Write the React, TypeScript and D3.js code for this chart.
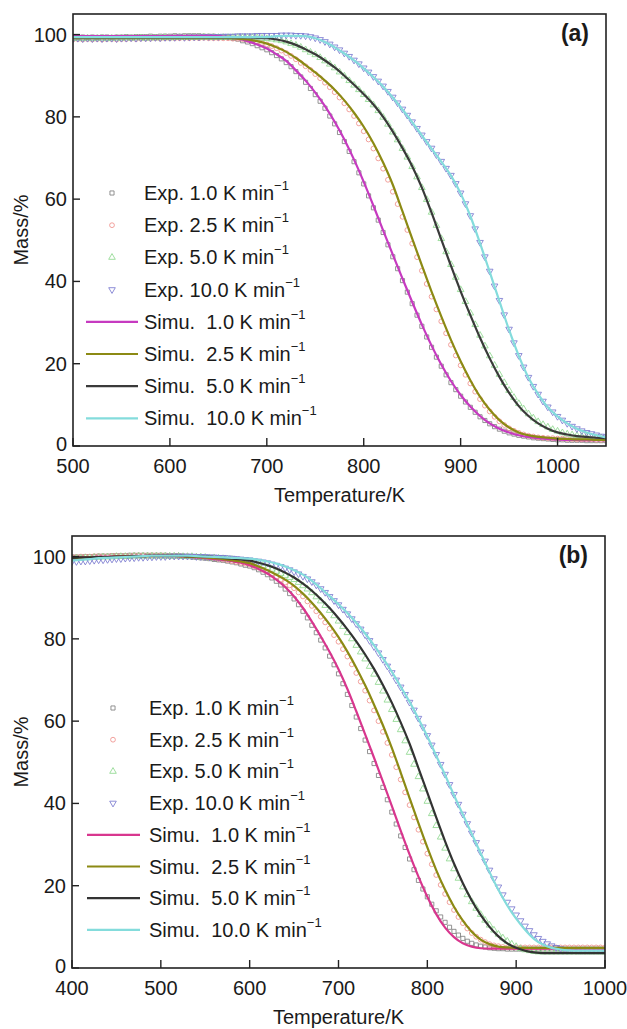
import React from "react";
import * as d3 from "d3";

// ---------- data: panel (a) ----------
const tempsA = [500,510,520,530,540,550,560,570,580,590,600,610,620,630,640,650,660,670,680,690,700,710,720,730,740,750,760,770,780,790,800,810,820,830,840,850,860,870,880,890,900,910,920,930,940,950,960,970,980,990,1000,1010,1020,1030,1040,1050];

const simA1 = [99.6,99.6,99.6,99.6,99.6,99.6,99.6,99.6,99.6,99.6,99.7,99.7,99.7,99.7,99.7,99.6,99.4,99.0,98.4,97.6,96.6,95.2,93.6,91.3,88.8,85.9,82.6,78.8,74.5,69.6,64.2,58.4,52.4,46.5,40.7,35.0,29.5,24.4,19.8,15.8,12.4,9.6,7.3,5.5,4.2,3.3,2.6,2.2,1.9,1.7,1.6,1.5,1.5,1.4,1.4,1.4];
const simA2 = [99.1,99.1,99.1,99.1,99.1,99.1,99.1,99.1,99.1,99.1,99.1,99.1,99.1,99.1,99.1,99.1,99.1,99.0,98.8,98.4,97.8,96.9,95.8,94.3,92.6,90.8,88.8,86.6,84.0,81.0,77.6,73.6,68.9,63.5,57.0,50.4,43.9,37.5,31.5,25.8,20.6,16.0,12.0,8.8,6.3,4.5,3.3,2.6,2.2,2.0,1.8,1.7,1.6,1.6,1.5,1.5];
const simA3 = [99.3,99.3,99.3,99.3,99.3,99.3,99.3,99.3,99.3,99.3,99.3,99.3,99.3,99.3,99.3,99.3,99.3,99.3,99.3,99.2,99.1,98.8,98.3,97.5,96.4,95.2,93.7,92.0,90.0,87.8,85.5,83.0,80.0,76.4,72.4,68.0,62.8,56.7,50.2,43.8,37.6,31.8,26.3,21.3,16.8,12.9,9.7,7.3,5.5,4.2,3.3,2.8,2.4,2.2,2.0,1.9];
const simA4 = [99.4,99.4,99.4,99.4,99.4,99.4,99.4,99.4,99.4,99.4,99.4,99.4,99.4,99.4,99.4,99.4,99.4,99.4,99.4,99.4,99.4,99.6,99.7,99.7,99.6,99.1,98.2,96.9,95.4,93.7,91.8,89.7,87.4,84.7,81.8,78.7,75.5,72.3,69.1,65.7,61.4,55.9,49.3,42.3,35.2,28.2,21.9,16.6,12.6,9.4,7.2,5.5,4.2,3.3,2.6,2.1];

const expTempsA = [500,505,510,515,520,525,530,535,540,545,550,555,560,565,570,575,580,585,590,595,600,605,610,615,620,625,630,635,640,645,650,655,660,665,670,675,680,685,690,695,700,705,710,715,720,725,730,735,740,745,750,755,760,765,770,775,780,785,790,795,800,805,810,815,820,825,830,835,840,845,850,855,860,865,870,875,880,885,890,895,900,905,910,915,920,925,930,935,940,945,950,955,960,965,970,975,980,985,990,995,1000,1005,1010,1015,1020,1025,1030,1035,1040,1045,1050];

const expA1 = [
  99.4,99.3,99.4,99.3,99.4,99.3,99.4,99.4,99.3,99.4,
  99.4,99.5,99.4,99.5,99.5,99.5,99.6,99.5,99.6,99.6,
  99.6,99.7,99.6,99.7,99.7,99.7,99.7,99.6,99.6,99.6,
  99.5,99.4,99.3,99.1,98.9,98.5,98.2,97.8,97.3,96.8,
  96.3,95.6,94.9,94.1,93.2,92.2,91.0,89.7,88.4,86.9,
  85.4,83.8,82.1,80.2,78.3,76.2,74.0,71.6,69.1,66.4,
  63.7,60.8,57.9,54.9,51.9,48.9,46.0,43.1,40.2,37.4,
  34.6,31.8,29.1,26.5,24.0,21.6,19.4,17.3,15.4,13.7,
  12.1,10.7,9.4,8.2,7.1,6.2,5.4,4.7,4.1,3.6,
  3.2,2.9,2.6,2.4,2.2,2.0,1.9,1.8,1.7,1.6,
  1.5,1.5,1.4,1.4,1.4,1.4,1.3,1.3,1.3,1.3,
  1.3];
const expA2 = [
  98.8,98.9,98.8,98.9,98.8,98.9,98.8,98.9,98.9,98.8,
  98.9,98.9,99.0,98.9,99.0,99.0,99.0,99.1,99.0,99.1,
  99.1,99.1,99.1,99.2,99.1,99.2,99.1,99.2,99.1,99.1,
  99.1,99.1,99.1,99.0,99.0,98.9,98.7,98.5,98.3,98.0,
  97.6,97.2,96.7,96.1,95.5,94.8,94.0,93.1,92.3,91.4,
  90.4,89.4,88.3,87.2,86.0,84.7,83.3,81.8,80.2,78.4,
  76.5,74.5,72.3,69.9,67.4,64.7,61.8,58.8,55.7,52.5,
  49.2,45.9,42.6,39.4,36.3,33.2,30.3,27.4,24.6,22.0,
  19.6,17.3,15.2,13.2,11.4,9.8,8.4,7.1,6.0,5.1,
  4.3,3.7,3.2,2.8,2.5,2.3,2.1,2.0,1.9,1.9,
  1.8,1.8,1.7,1.7,1.6,1.6,1.6,1.6,1.5,1.5,
  1.5];
const expA3 = [
  99.0,99.1,99.0,99.1,99.0,99.1,99.1,99.0,99.1,99.1,
  99.1,99.2,99.1,99.2,99.2,99.1,99.2,99.2,99.2,99.3,
  99.2,99.3,99.3,99.3,99.3,99.3,99.3,99.4,99.3,99.3,
  99.3,99.3,99.3,99.3,99.3,99.3,99.3,99.3,99.2,99.1,
  99.0,98.9,98.7,98.5,98.2,97.8,97.4,96.9,96.3,95.7,
  95.1,94.4,93.6,92.8,91.9,90.9,89.9,88.8,87.7,86.6,
  85.4,84.2,82.9,81.5,79.9,78.2,76.3,74.4,72.3,70.2,
  67.9,65.4,62.8,59.9,56.8,53.6,50.4,47.2,44.1,41.0,
  38.0,35.1,32.3,29.5,26.9,24.3,21.9,19.6,17.4,15.4,
  13.5,11.8,10.3,9.0,7.8,6.8,5.9,5.2,4.6,4.0,
  3.6,3.2,2.9,2.7,2.5,2.3,2.2,2.1,2.0,2.0,
  1.9];
const expA4 = [
  99.0,99.1,99.0,99.1,99.0,99.1,99.0,99.1,99.1,99.0,
  99.1,99.1,99.2,99.1,99.2,99.2,99.2,99.3,99.2,99.3,
  99.3,99.3,99.4,99.3,99.4,99.4,99.4,99.5,99.5,99.5,
  99.5,99.6,99.6,99.6,99.7,99.7,99.7,99.7,99.8,99.8,
  99.8,99.8,99.8,99.9,99.9,99.9,99.8,99.8,99.7,99.5,
  99.2,98.8,98.3,97.7,97.0,96.3,95.5,94.7,93.8,92.9,
  91.9,90.9,89.8,88.7,87.5,86.2,84.8,83.4,81.9,80.4,
  78.8,77.2,75.6,74.0,72.4,70.8,69.2,67.5,65.8,63.8,
  61.5,58.9,56.0,52.8,49.5,46.0,42.5,38.9,35.4,31.9,
  28.4,25.1,22.0,19.2,16.7,14.5,12.6,10.9,9.5,8.3,
  7.2,6.3,5.5,4.8,4.2,3.7,3.3,3.0,2.7,2.4,
  2.2];

// ---------- data: panel (b) ----------
const tempsB = [400,410,420,430,440,450,460,470,480,490,500,510,520,530,540,550,560,570,580,590,600,610,620,630,640,650,660,670,680,690,700,710,720,730,740,750,760,770,780,790,800,810,820,830,840,850,860,870,880,890,900,910,920,930,940,950,960,970,980,990,1000];

const simB1 = [99.8,99.9,99.9,100.0,100.0,100.1,100.1,100.2,100.2,100.2,100.2,100.2,100.1,100.0,99.8,99.6,99.4,99.2,98.9,98.5,97.9,97.0,95.9,94.4,92.6,90.3,87.5,84.2,80.6,76.8,72.6,67.8,62.4,56.8,51.1,45.3,39.4,33.4,27.6,22.2,17.3,13.1,9.8,7.5,6.0,5.2,4.8,4.7,4.7,4.7,4.7,4.7,4.7,4.7,4.7,4.7,4.7,4.7,4.7,4.7,4.7];
const simB2 = [99.6,99.7,99.8,99.9,99.9,100.0,100.0,100.1,100.1,100.2,100.2,100.2,100.1,100.0,99.9,99.8,99.6,99.4,99.1,98.8,98.4,97.6,96.7,95.6,94.4,92.9,91.0,88.8,86.3,83.5,80.4,76.9,73.0,68.7,64.0,59.0,53.5,47.5,41.3,35.2,29.3,23.8,19.0,14.9,11.5,8.8,6.9,5.8,5.2,5.0,4.9,4.9,4.9,4.9,4.9,4.9,4.9,4.9,4.9,4.9,4.9];
const simB3 = [99.7,99.8,99.8,99.9,99.9,100.0,100.0,100.1,100.1,100.2,100.2,100.2,100.2,100.1,100.1,100.0,99.9,99.7,99.5,99.3,99.0,98.5,97.9,97.1,96.1,94.9,93.4,91.7,89.7,87.5,85.0,82.3,79.4,76.2,72.7,68.8,64.5,59.7,54.5,48.6,42.6,36.6,30.8,25.4,20.6,16.4,12.9,10.0,7.7,6.0,4.9,4.2,3.8,3.6,3.6,3.6,3.6,3.6,3.6,3.6,3.6];
const simB4 = [99.0,99.2,99.4,99.6,99.7,99.8,99.9,100.0,100.1,100.2,100.2,100.2,100.2,100.2,100.1,100.0,99.9,99.8,99.7,99.6,99.5,99.2,98.8,98.3,97.6,96.7,95.6,94.1,92.3,90.4,88.4,86.3,83.9,81.3,78.4,75.3,72.0,68.4,64.7,60.6,56.3,51.6,46.9,42.0,37.3,32.6,27.9,23.3,19.0,15.2,12.0,9.3,7.1,5.7,4.9,4.5,4.3,4.2,4.2,4.2,4.2];

const expTempsB = [400,405,410,415,420,425,430,435,440,445,450,455,460,465,470,475,480,485,490,495,500,505,510,515,520,525,530,535,540,545,550,555,560,565,570,575,580,585,590,595,600,605,610,615,620,625,630,635,640,645,650,655,660,665,670,675,680,685,690,695,700,705,710,715,720,725,730,735,740,745,750,755,760,765,770,775,780,785,790,795,800,805,810,815,820,825,830,835,840,845,850,855,860,865,870,875,880,885,890,895,900,905,910,915,920,925,930,935,940,945,950,955,960,965,970,975,980,985,990,995,1000];

const expB1 = [
  99.9,99.9,99.9,100.0,100.0,100.0,100.1,100.1,100.1,100.2,
  100.2,100.2,100.2,100.3,100.3,100.3,100.3,100.3,100.3,100.3,
  100.3,100.3,100.2,100.2,100.2,100.1,100.0,99.9,99.8,99.7,
  99.6,99.5,99.3,99.2,99.1,98.9,98.7,98.5,98.2,97.9,
  97.7,97.3,96.8,96.2,95.6,94.8,94.0,93.1,92.1,91.0,
  89.7,88.3,86.7,85.1,83.3,81.5,79.7,77.8,75.8,73.7,
  71.5,69.1,66.5,63.8,61.0,58.2,55.4,52.6,49.7,46.8,
  43.9,40.9,37.9,35.0,32.1,29.3,26.5,23.9,21.3,19.2,
  17.3,15.5,13.9,12.4,11.1,9.9,8.9,8.0,7.2,6.5,
  6.0,5.6,5.3,5.1,4.9,4.8,4.7,4.7,4.6,4.6,
  4.6,4.6,4.6,4.6,4.6,4.6,4.6,4.6,4.6,4.6,
  4.6,4.6,4.6,4.6,4.6,4.6,4.6,4.6,4.6,4.6,
  4.6];
const expB2 = [
  99.9,99.9,100.0,100.0,100.0,100.1,100.1,100.1,100.1,100.2,
  100.2,100.2,100.2,100.2,100.3,100.3,100.3,100.3,100.3,100.3,
  100.3,100.2,100.2,100.2,100.2,100.1,100.1,100.0,100.0,99.9,
  99.8,99.7,99.6,99.4,99.3,99.1,98.9,98.7,98.5,98.3,
  98.1,97.7,97.3,96.8,96.3,95.7,95.1,94.4,93.7,93.0,
  92.3,91.3,90.3,89.1,88.0,86.7,85.4,84.0,82.5,80.9,
  79.3,77.5,75.7,73.8,71.7,69.6,67.4,65.0,62.6,60.0,
  57.4,54.7,51.8,48.8,45.8,42.7,39.6,36.6,33.6,30.7,
  27.8,25.2,22.6,20.2,18.0,16.0,14.1,12.4,10.9,9.6,
  8.5,7.6,6.9,6.3,5.8,5.5,5.3,5.1,5.0,5.0,
  5.0,5.0,5.0,5.0,5.0,5.0,5.0,5.0,5.0,5.0,
  5.0,5.0,5.0,5.0,5.0,5.0,5.0,5.0,5.0,5.0,
  5.0];
const expB3 = [
  99.5,99.6,99.6,99.7,99.7,99.8,99.8,99.9,99.9,99.9,
  100.0,100.0,100.0,100.0,100.1,100.1,100.1,100.1,100.1,100.1,
  100.1,100.1,100.1,100.1,100.1,100.0,100.0,100.0,99.9,99.9,
  99.8,99.7,99.7,99.6,99.5,99.4,99.3,99.2,99.0,98.9,
  98.7,98.4,98.1,97.7,97.3,96.9,96.4,95.9,95.4,94.9,
  94.4,93.7,92.9,92.1,91.2,90.2,89.2,88.1,86.9,85.6,
  84.3,83.0,81.5,80.0,78.4,76.8,75.1,73.3,71.4,69.4,
  67.3,65.1,62.8,60.4,57.9,55.2,52.4,49.5,46.5,43.5,
  40.5,37.5,34.6,31.8,29.1,26.5,24.1,21.8,19.7,17.8,
  16.1,14.5,13.0,11.6,10.4,9.2,8.2,7.3,6.5,5.8,
  5.2,4.7,4.4,4.2,4.0,3.9,3.9,3.9,3.9,3.9,
  3.9,3.9,3.9,3.9,3.9,3.9,3.9,3.9,3.9,3.9,
  3.9];
const expB4 = [
  98.8,98.8,98.9,98.9,99.0,99.1,99.2,99.2,99.3,99.4,
  99.5,99.5,99.6,99.7,99.7,99.8,99.8,99.9,99.9,100.0,
  100.0,100.0,100.1,100.1,100.1,100.1,100.1,100.1,100.0,100.0,
  100.0,99.9,99.9,99.8,99.8,99.7,99.6,99.5,99.4,99.3,
  99.2,99.0,98.9,98.7,98.5,98.2,97.9,97.6,97.2,96.8,
  96.3,95.8,95.2,94.6,93.9,93.1,92.2,91.3,90.3,89.3,
  88.3,87.2,86.1,84.9,83.7,82.4,81.0,79.6,78.1,76.6,
  75.0,73.4,71.8,70.0,68.3,66.5,64.6,62.7,60.7,58.6,
  56.5,54.2,51.9,49.5,47.1,44.6,42.2,39.8,37.4,35.1,
  32.8,30.5,28.2,26.0,23.8,21.7,19.7,17.8,16.0,14.4,
  12.9,11.5,10.2,9.1,8.1,7.2,6.5,5.9,5.4,5.0,
  4.7,4.5,4.4,4.4,4.3,4.3,4.3,4.3,4.3,4.3,
  4.3];

const xTicksA = [500, 600, 700, 800, 900, 1000];
const xTicksB = [400, 500, 600, 700, 800, 900, 1000];
const yTicks = [0, 20, 40, 60, 80, 100];

const expLabels = ["Exp. 1.0 K min", "Exp. 2.5 K min", "Exp. 5.0 K min", "Exp. 10.0 K min"];
const simuLabels = ["Simu.  1.0 K min", "Simu.  2.5 K min", "Simu.  5.0 K min", "Simu.  10.0 K min"];

// ---------- styles ----------
const FONT = "'Liberation Sans', Arial, Helvetica, sans-serif";
const markerColors = ["#808080", "#f0918c", "#8fd88f", "#7a7ad0"];
const markerShapes = ["square", "circle", "up", "down"];

type PanelProps = {
  temps: number[];
  expTemps: number[];
  sims: number[][];
  exps: number[][];
  xDomain: [number, number];
  xTicks: number[];
  box: { left: number; right: number; top: number; bottom: number };
  tag: string;
  simColors: string[];
  legend: { y0: number; step: number; markerX: number; lineX1: number; lineX2: number; textX: number };
};

function zip(t: number[], v: number[]) {
  const n = Math.min(t.length, v.length);
  const out: [number, number][] = [];
  for (let i = 0; i < n; i++) out.push([t[i], v[i]]);
  return out;
}

const symSquare = d3.symbol().type(d3.symbolSquare).size(17)() as string;
const symCircle = d3.symbol().type(d3.symbolCircle).size(18)() as string;
const symTri = d3.symbol().type(d3.symbolTriangle).size(19)() as string;

function Marker({ shape, x, y, color }: { shape: string; x: number; y: number; color: string }) {
  const path = shape === "square" ? symSquare : shape === "circle" ? symCircle : symTri;
  const rot = shape === "down" ? " rotate(180)" : "";
  return <path d={path} transform={`translate(${x},${y})${rot}`} fill="none" stroke={color} strokeWidth={0.85} />;
}

function Panel(p: PanelProps) {
  const { box } = p;
  const x = d3.scaleLinear().domain(p.xDomain).range([box.left, box.right]);
  const y = d3.scaleLinear().domain([0, 105]).range([box.bottom, box.top]);
  const line = d3
    .line<[number, number]>()
    .x((d) => x(d[0]))
    .y((d) => y(d[1]))
    .curve(d3.curveMonotoneX);
  const cx = (box.left + box.right) / 2;
  const cy = (box.top + box.bottom) / 2;
  const clipId = "clip-" + p.tag.replace(/[()]/g, "");
  const L = p.legend;
  return (
    <g fontFamily={FONT} fill="#1a1a1a">
      <defs>
        <clipPath id={clipId}>
          <rect x={box.left} y={box.top} width={box.right - box.left} height={box.bottom - box.top} />
        </clipPath>
      </defs>
      <g clipPath={`url(#${clipId})`}>
        {p.exps.map((arr, si) =>
          zip(p.expTemps, arr).map((d, i) => (
            <Marker key={`m${si}-${i}`} shape={markerShapes[si]} x={x(d[0])} y={y(d[1])} color={markerColors[si]} />
          ))
        )}
        {p.sims.map((arr, si) => (
          <path key={`s${si}`} d={line(zip(p.temps, arr)) || ""} fill="none" stroke={p.simColors[si]} strokeWidth={2.2} />
        ))}
      </g>
      <rect x={box.left} y={box.top} width={box.right - box.left} height={box.bottom - box.top} fill="none" stroke="#222" strokeWidth={1.6} />
      {yTicks.map((t) => (
        <g key={`y${t}`}>
          <line x1={box.left} x2={box.left + 7} y1={y(t)} y2={y(t)} stroke="#222" strokeWidth={1.4} />
          <text x={box.left - 6} y={y(t) + (t === 0 ? 5 : 7)} textAnchor="end" fontSize={20} fill="#1a1a1a">
            {t}
          </text>
        </g>
      ))}
      {p.xTicks.map((t) => (
        <g key={`x${t}`}>
          <line x1={x(t)} x2={x(t)} y1={box.bottom} y2={box.bottom - 8} stroke="#222" strokeWidth={1.4} />
          <text x={x(t)} y={box.bottom + 27} textAnchor="middle" fontSize={20} fill="#1a1a1a">
            {t}
          </text>
        </g>
      ))}
      <text x={cx} y={box.bottom + 56} textAnchor="middle" fontSize={20} fill="#1a1a1a">
        Temperature/K
      </text>
      <text transform={`translate(${28},${cy}) rotate(-90)`} textAnchor="middle" fontSize={20} fill="#1a1a1a">
        Mass/%
      </text>
      <text x={box.right - 17} y={box.top + 27} textAnchor="end" fontSize={23} fontWeight="bold" fill="#1a1a1a">
        {p.tag}
      </text>
      {expLabels.map((lab, i) => {
        const ry = L.y0 + i * L.step;
        return (
          <g key={`le${i}`}>
            <Marker shape={markerShapes[i]} x={L.markerX} y={ry} color={markerColors[i]} />
            <text x={L.textX} y={ry + 7} fontSize={20} fill="#1a1a1a" style={{ whiteSpace: "pre" }}>
              {lab}
              <tspan fontSize={13} dy={-10}>−1</tspan>
            </text>
          </g>
        );
      })}
      {simuLabels.map((lab, i) => {
        const ry = L.y0 + (i + 4) * L.step;
        return (
          <g key={`ls${i}`}>
            <line x1={L.lineX1} x2={L.lineX2} y1={ry} y2={ry} stroke={p.simColors[i]} strokeWidth={2.2} />
            <text x={L.textX} y={ry + 7} fontSize={20} fill="#1a1a1a" style={{ whiteSpace: "pre" }}>
              {lab}
              <tspan fontSize={13} dy={-10}>−1</tspan>
            </text>
          </g>
        );
      })}
    </g>
  );
}

export default function App() {
  return (
    <svg width={627} height={1029} style={{ position: "absolute", left: 0, top: 0, background: "#fff" }}>
      <rect x={0} y={0} width={627} height={1029} fill="#fff" />
      <Panel
        temps={tempsA}
        expTemps={expTempsA}
        sims={[simA1, simA2, simA3, simA4]}
        exps={[expA1, expA2, expA3, expA4]}
        xDomain={[500, 1050]}
        xTicks={xTicksA}
        box={{ left: 73, right: 606, top: 14, bottom: 446 }}
        tag="(a)"
        simColors={["#c63ac0", "#8c8a14", "#3a3a3a", "#84dcdc"]}
        legend={{ y0: 193, step: 32.2, markerX: 112, lineX1: 86, lineX2: 138, textX: 144 }}
      />
      <Panel
        temps={tempsB}
        expTemps={expTempsB}
        sims={[simB1, simB2, simB3, simB4]}
        exps={[expB1, expB2, expB3, expB4]}
        xDomain={[400, 1000]}
        xTicks={xTicksB}
        box={{ left: 72, right: 605, top: 536, bottom: 968 }}
        tag="(b)"
        simColors={["#d8368e", "#8c8a14", "#333333", "#84dcdc"]}
        legend={{ y0: 708, step: 31.7, markerX: 113, lineX1: 87, lineX2: 140, textX: 149 }}
      />
    </svg>
  );
}
